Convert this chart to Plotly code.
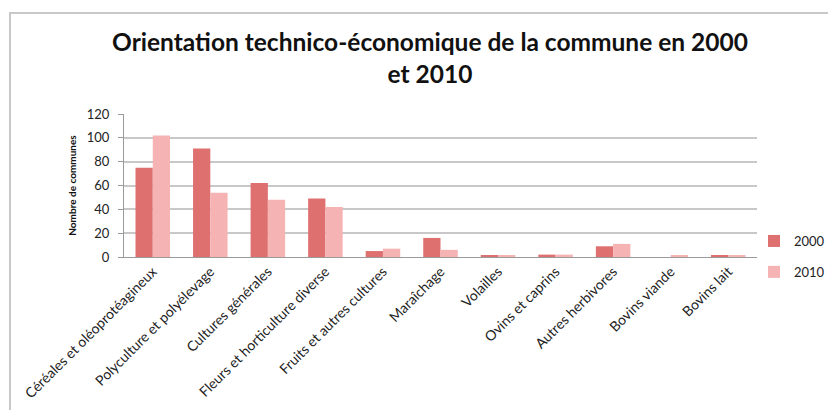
import plotly.graph_objects as go

categories = [
    "Céréales et oléoprotéagineux",
    "Polyculture et polyélevage",
    "Cultures générales",
    "Fleurs et horticulture diverse",
    "Fruits et autres cultures",
    "Maraîchage",
    "Volailles",
    "Ovins et caprins",
    "Autres herbivores",
    "Bovins viande",
    "Bovins lait",
]
values_2000 = [75, 91, 62, 49, 5, 16, 1, 2, 9, 0, 1]
values_2010 = [102, 54, 48, 42, 7, 6, 1, 2, 11, 1, 1]
y_ticks = [0, 20, 40, 60, 80, 100, 120]

font_family = "Lato, Open Sans, sans-serif"

fig = go.Figure()
fig.add_trace(go.Bar(
    x=categories, y=values_2000, name="2000", legendgroup="a",
    marker=dict(color="#df7070", line=dict(width=0)),
))
fig.add_trace(go.Bar(
    x=categories, y=values_2010, name="2010", legendgroup="b",
    marker=dict(color="#f5b3b3", line=dict(width=0)),
))

# page body has an 8px margin; figure coordinates = screen pixels - 8
O = 8
W, H = 836 - O, 410 - O
L, T = 124 - O, 114 - O
R = W - (757 - O)
B = H - (257 - O)
pw = W - L - R
ph = H - T - B
bottom = H - B

fig.update_layout(
    width=W, height=H,
    margin=dict(l=L, r=R, t=T, b=B, pad=0, autoexpand=False),
    paper_bgcolor="white", plot_bgcolor="white",
    barmode="group", bargap=0.4, bargroupgap=0.0,
    font=dict(family=font_family, color="#222222"),
    title=dict(
        text="<b>Orientation technico-économique de la commune en 2000<br>et 2010</b>",
        x=(430 - O) / W, xanchor="center", y=1 - 43 / H, yanchor="top",
        font=dict(size=24.5, color="#111111", family=font_family),
    ),
    showlegend=True,
    legend=dict(
        x=(754 - O - L) / pw, xanchor="left", y=31 / ph, yanchor="top",
        font=dict(size=13, color="#222222"),
        tracegroupgap=11, itemwidth=30, bgcolor="rgba(0,0,0,0)",
    ),
    xaxis=dict(
        automargin=False,
        tickangle=-45, tickfont=dict(size=14, color="#222222"),
        showline=True, linecolor="#9a9a9a", linewidth=1,
        showgrid=False, ticks="",
    ),
    yaxis=dict(
        automargin=False,
        range=[0, 120], tickvals=y_ticks, ticktext=[str(v) for v in y_ticks],
        showgrid=True, gridcolor="#c8c8c8", gridwidth=1.5,
        showline=True, linecolor="#9a9a9a", linewidth=1,
        ticks="outside", ticklen=5, tickcolor="#9a9a9a",
        ticklabelstandoff=6,
        tickfont=dict(size=13, color="#222222"),
        zeroline=False,
        title=dict(text="<b>Nombre de communes</b>", font=dict(size=10, color="#111111"), standoff=8),
    ),
)

# outer frame of the chart (light gray border)
fig.add_shape(
    type="rect", xref="paper", yref="paper",
    x0=(10 - O - L) / pw, x1=(W + 20 - L) / pw,
    y0=-(B + 30) / ph, y1=(bottom - (13 - O)) / ph,
    line=dict(color="#c8c8c8", width=2), fillcolor="rgba(0,0,0,0)", layer="below",
)

fig.write_html("out.html")
